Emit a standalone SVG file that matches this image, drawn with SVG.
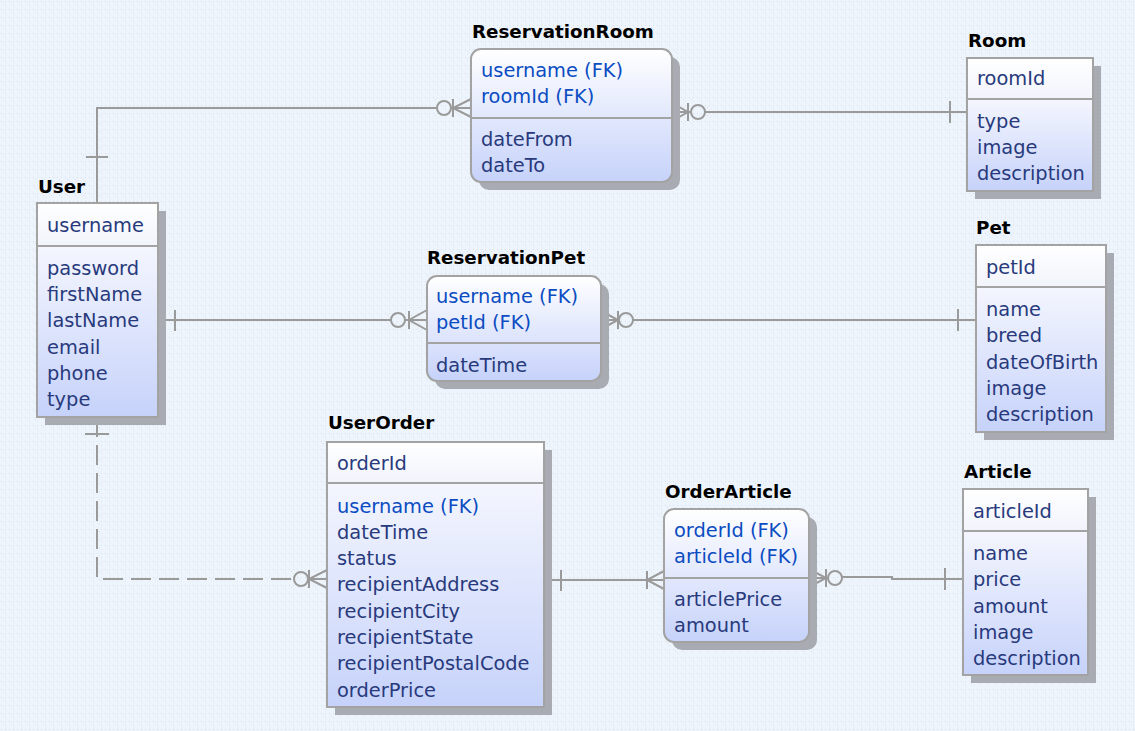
<svg xmlns="http://www.w3.org/2000/svg" width="1135" height="731" viewBox="0 0 1135 731">
<defs>
<pattern id="bg" width="8" height="8" patternUnits="userSpaceOnUse">
<rect width="8" height="8" fill="#EEF4FB"/>
<rect x="1" y="1" width="1" height="1" fill="#D5DEEA"/>
<rect x="3" y="3" width="1" height="1" fill="#D5DEEA"/>
<rect x="5" y="1" width="1" height="1" fill="#D5DEEA"/>
<rect x="5" y="5" width="1" height="1" fill="#DDE5EF"/>
</pattern>
<linearGradient id="hdr" x1="0" y1="0" x2="0" y2="1">
<stop offset="0" stop-color="#FFFFFF"/>
<stop offset="1" stop-color="#F2F4FC"/>
</linearGradient>
<linearGradient id="body" x1="0" y1="0" x2="0" y2="1">
<stop offset="0" stop-color="#F4F6FE"/>
<stop offset="1" stop-color="#C6D2FA"/>
</linearGradient>
<linearGradient id="rnd" x1="0" y1="0" x2="0" y2="1">
<stop offset="0" stop-color="#FFFFFF"/>
<stop offset="1" stop-color="#C6D2FA"/>
</linearGradient>
<style>
.title{font-family:"DejaVu Sans",sans-serif;font-weight:bold;font-size:18.3px;fill:#000}
.attr{font-family:"DejaVu Sans",sans-serif;font-size:19.4px;fill:#283A7C}
.fk{fill:#0B4CC2}
.shadow{fill:#A8ACB2}
.border{fill:none;stroke:#A3A3A3;stroke-width:2}
.sep{stroke:#A3A3A3;stroke-width:2}
.conn path,.conn circle{fill:none;stroke:#9A9A9A;stroke-width:2}
.dash{stroke-dasharray:20 8}
</style>
</defs>
<rect width="1135" height="731" fill="url(#bg)"/>

<g class="conn" id="connectors">
<path d="M97,203 V108 H437"/>
<path d="M86,157 H108"/>
<circle cx="444" cy="108" r="7"/>
<path d="M451,108 H471"/>
<path d="M453,99 V117"/>
<path d="M471,99 L453,108 L471,117"/>
<path d="M672,103 L688,112 L672,121"/>
<path d="M672,112 H691"/>
<path d="M688,103 V121"/>
<circle cx="698" cy="112" r="7"/>
<path d="M705,112 H967"/>
<path d="M950,101 V123"/>
<path d="M158,320 H391"/>
<path d="M175,310 V331"/>
<circle cx="398" cy="320" r="7"/>
<path d="M405,320 H427"/>
<path d="M409,311 V329"/>
<path d="M427,310 L409,320 L427,330"/>
<path d="M601,311 L618,320 L601,329"/>
<path d="M601,320 H619"/>
<path d="M618,311 V329"/>
<circle cx="626" cy="320" r="7"/>
<path d="M633,320 H976"/>
<path d="M958,309 V331"/>
<path class="dash" d="M97,417 V579 H294"/>
<path d="M85,434 H109"/>
<circle cx="301" cy="579" r="7"/>
<path d="M308,579 H327"/>
<path d="M309,570 V588"/>
<path d="M327,570 L309,579 L327,588"/>
<path d="M544,580 H664"/>
<path d="M561,570 V591"/>
<path d="M647,571 V589"/>
<path d="M664,571 L647,580 L664,589"/>
<path d="M809,569 L826,578 L809,587"/>
<path d="M809,578 H828"/>
<path d="M826,569 V587"/>
<circle cx="835" cy="578" r="7"/>
<path d="M842,577 H892 V579 H963"/>
<path d="M945,568 V590"/>
</g>

<g id="User">
<text class="title" x="38" y="193">User</text>
<rect class="shadow" x="45" y="211" width="121" height="214"/>
<rect x="37" y="203" width="121" height="43" fill="url(#hdr)"/>
<rect x="37" y="246" width="121" height="171" fill="url(#body)"/>
<rect class="border" x="37" y="203" width="121" height="214"/>
<line class="sep" x1="37" y1="246" x2="158" y2="246"/>
<text class="attr" x="47" y="232">username</text>
<text class="attr" x="47" y="275">password</text>
<text class="attr" x="47" y="301">firstName</text>
<text class="attr" x="47" y="327">lastName</text>
<text class="attr" x="47" y="354">email</text>
<text class="attr" x="47" y="380">phone</text>
<text class="attr" x="47" y="406">type</text>
</g>

<g id="ReservationRoom">
<text class="title" x="472" y="38">ReservationRoom</text>
<rect class="shadow" x="479" y="57" width="201" height="133" rx="10"/>
<rect x="471" y="49" width="201" height="133" rx="10" fill="url(#rnd)"/>
<rect class="border" x="471" y="49" width="201" height="133" rx="10"/>
<line class="sep" x1="471" y1="118" x2="672" y2="118"/>
<text class="attr fk" x="481" y="77">username (FK)</text>
<text class="attr fk" x="481" y="103">roomId (FK)</text>
<text class="attr" x="481" y="146">dateFrom</text>
<text class="attr" x="481" y="172">dateTo</text>
</g>

<g id="Room">
<text class="title" x="968" y="47">Room</text>
<rect class="shadow" x="975" y="66" width="126" height="133"/>
<rect x="967" y="58" width="126" height="41" fill="url(#hdr)"/>
<rect x="967" y="99" width="126" height="92" fill="url(#body)"/>
<rect class="border" x="967" y="58" width="126" height="133"/>
<line class="sep" x1="967" y1="99" x2="1093" y2="99"/>
<text class="attr" x="977" y="85">roomId</text>
<text class="attr" x="977" y="128">type</text>
<text class="attr" x="977" y="154">image</text>
<text class="attr" x="977" y="180">description</text>
</g>

<g id="ReservationPet">
<text class="title" x="427" y="264">ReservationPet</text>
<rect class="shadow" x="435" y="284" width="174" height="105" rx="10"/>
<rect x="427" y="276" width="174" height="105" rx="10" fill="url(#rnd)"/>
<rect class="border" x="427" y="276" width="174" height="105" rx="10"/>
<line class="sep" x1="427" y1="343" x2="601" y2="343"/>
<text class="attr fk" x="436" y="303">username (FK)</text>
<text class="attr fk" x="436" y="329">petId (FK)</text>
<text class="attr" x="436" y="372">dateTime</text>
</g>

<g id="Pet">
<text class="title" x="976" y="234">Pet</text>
<rect class="shadow" x="984" y="253" width="130" height="187"/>
<rect x="976" y="245" width="130" height="42" fill="url(#hdr)"/>
<rect x="976" y="287" width="130" height="145" fill="url(#body)"/>
<rect class="border" x="976" y="245" width="130" height="187"/>
<line class="sep" x1="976" y1="287" x2="1106" y2="287"/>
<text class="attr" x="986" y="274">petId</text>
<text class="attr" x="986" y="316">name</text>
<text class="attr" x="986" y="342">breed</text>
<text class="attr" x="986" y="369">dateOfBirth</text>
<text class="attr" x="986" y="395">image</text>
<text class="attr" x="986" y="421">description</text>
</g>

<g id="UserOrder">
<text class="title" x="328" y="429">UserOrder</text>
<rect class="shadow" x="335" y="450" width="217" height="265"/>
<rect x="327" y="442" width="217" height="41" fill="url(#hdr)"/>
<rect x="327" y="483" width="217" height="224" fill="url(#body)"/>
<rect class="border" x="327" y="442" width="217" height="265"/>
<line class="sep" x1="327" y1="483" x2="544" y2="483"/>
<text class="attr" x="337" y="470">orderId</text>
<text class="attr fk" x="337" y="513">username (FK)</text>
<text class="attr" x="337" y="539">dateTime</text>
<text class="attr" x="337" y="565">status</text>
<text class="attr" x="337" y="591">recipientAddress</text>
<text class="attr" x="337" y="618">recipientCity</text>
<text class="attr" x="337" y="644">recipientState</text>
<text class="attr" x="337" y="670">recipientPostalCode</text>
<text class="attr" x="337" y="697">orderPrice</text>
</g>

<g id="OrderArticle">
<text class="title" x="665" y="498">OrderArticle</text>
<rect class="shadow" x="672" y="517" width="145" height="133" rx="10"/>
<rect x="664" y="509" width="145" height="133" rx="10" fill="url(#rnd)"/>
<rect class="border" x="664" y="509" width="145" height="133" rx="10"/>
<line class="sep" x1="664" y1="578" x2="809" y2="578"/>
<text class="attr fk" x="674" y="537">orderId (FK)</text>
<text class="attr fk" x="674" y="563">articleId (FK)</text>
<text class="attr" x="674" y="606">articlePrice</text>
<text class="attr" x="674" y="632">amount</text>
</g>

<g id="Article">
<text class="title" x="964" y="478">Article</text>
<rect class="shadow" x="971" y="497" width="125" height="186"/>
<rect x="963" y="489" width="125" height="42" fill="url(#hdr)"/>
<rect x="963" y="531" width="125" height="144" fill="url(#body)"/>
<rect class="border" x="963" y="489" width="125" height="186"/>
<line class="sep" x1="963" y1="531" x2="1088" y2="531"/>
<text class="attr" x="973" y="518">articleId</text>
<text class="attr" x="973" y="560">name</text>
<text class="attr" x="973" y="586">price</text>
<text class="attr" x="973" y="613">amount</text>
<text class="attr" x="973" y="639">image</text>
<text class="attr" x="973" y="665">description</text>
</g>
</svg>
